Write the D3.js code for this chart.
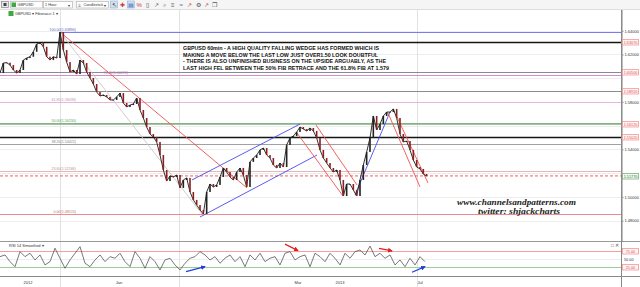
<!DOCTYPE html>
<html>
<head>
<meta charset="utf-8">
<title>GBPUSD 60min</title>
<script src="https://cdn.jsdelivr.net/npm/d3@7"></script>
<style>
body { margin:0; background:#fff; overflow:hidden; }
svg { display:block; font-family:"Liberation Sans", Arial, sans-serif; }
</style>
</head>
<body>
<svg id="chart" width="640" height="287"></svg>
<script>

// closes, one every bar step
var closes = [
 1.6044,1.6128,1.6131,1.6111,1.6069,1.6044,1.6069,1.6153,1.6170,1.6181,
 1.6223,1.6288,1.6299,1.6265,1.6181,1.6153,1.6181,1.6170,1.6389,1.6238,
 1.6136,1.6052,1.6069,1.6035,1.6153,1.6128,1.6052,1.6002,1.5951,1.5884,
 1.5850,1.5859,1.5842,1.5817,1.5817,1.5842,1.5875,1.5791,1.5758,1.5774,
 1.5783,1.5833,1.5732,1.5665,1.5589,1.5530,1.5505,1.5463,1.5353,1.5227,
 1.5134,1.5177,1.5168,1.5185,1.5076,1.5143,1.5160,1.5042,1.4975,1.4932,
 1.4890,1.4857,1.5042,1.5109,1.5084,1.5101,1.5168,1.5244,1.5210,1.5168,
 1.5143,1.5210,1.5244,1.5185,1.5084,1.5295,1.5328,1.5353,1.5396,1.5412,
 1.5353,1.5328,1.5269,1.5244,1.5286,1.5252,1.5438,1.5497,1.5513,1.5547,
 1.5589,1.5572,1.5556,1.5581,1.5556,1.5497,1.5396,1.5328,1.5286,1.5244,
 1.5210,1.5227,1.5143,1.5008,1.5109,1.5109,1.5059,1.5008,1.5143,1.5269,
 1.5379,1.5497,1.5682,1.5564,1.5614,1.5682,1.5715,1.5715,1.5741,1.5665,
 1.5530,1.5463,1.5471,1.5396,1.5311,1.5252,1.5236,1.5193,1.5177
];

// RSI 14 smoothed, one value every 1.5 bars
var rsi = [
 57.5,62.7,42.2,26.8,72.9,57.5,67.9,47.4,62.7,32.1,
 42.2,83.3,52.6,21.9,47.4,67.9,88.2,37.3,26.8,47.4,
 62.7,42.2,57.5,52.6,67.9,42.2,26.8,72.9,52.6,21.9,
 57.5,42.2,16.7,47.4,52.6,32.1,16.7,37.3,52.6,57.5,
 72.9,62.7,47.4,57.5,37.3,52.6,62.7,42.2,57.5,26.8,
 62.7,47.4,67.9,42.2,52.6,57.5,32.1,67.9,72.9,47.4,
 57.5,62.7,26.8,67.9,57.5,42.2,67.9,52.6,32.1,67.9,
 52.6,72.9,78.1,62.7,90.0,57.5,67.9,52.6,62.7,32.1,
 47.4,26.8,52.6,32.1,57.5,42.2
];
var rsiStep = 1.5;

var priceTicks = [1.48, 1.50, 1.52, 1.54, 1.56, 1.58, 1.60, 1.62, 1.64];
var rsiLevels = [25, 50, 75];

var fibHigh = 1.6389, fibLow = 1.4857;
var fibRatios = [0, 23.6, 38.2, 50, 61.8, 76.4, 100];
var fibColors = ["#f08a8a", "#e2b8b8", "#a0a0a0", "#7fb87f", "#eab4dc", "#d68ad6", "#7b7bee"];

var userLines = [1.6307, 1.6050, 1.5892, 1.5612, 1.5502];
var userStyles = ["black", "gray", "gray", "green", "black"];
var lastPrice = 1.5177;

// [bar, price] pairs
var trendLines = [
 {c:"#f05050", p:[[18, 1.6389], [74.1, 1.5076]]},
 {c:"#c8c8c8", p:[[18, 1.6389], [60.6, 1.4857]]},
 {c:"#4a4af0", p:[[60, 1.4831], [95.1, 1.5353]]},
 {c:"#4a4af0", p:[[57.6, 1.5143], [90, 1.5614]]},
 {c:"#4a4af0", p:[[106.5, 1.5017], [117, 1.5715]]},
 {c:"#f05050", p:[[89.1, 1.5539], [102.9, 1.5008]]},
 {c:"#f05050", p:[[94.8, 1.5606], [107.1, 1.5101]]},
 {c:"#f05050", p:[[119.1, 1.5673], [128.4, 1.5118]]},
 {c:"#f05050", p:[[116.4, 1.5707], [126, 1.5084]]}
];

// [bar, rsi] pairs
var rsiArrows = [
 {c:"#e02020", p:[[85.5, 96], [89.4, 76]]},
 {c:"#1f3fe0", p:[[55.8, 11.5], [61.5, 26.8]]},
 {c:"#e02020", p:[[113.7, 83], [117.6, 75]]},
 {c:"#1f3fe0", p:[[123.6, 9.7], [127.5, 26.8]]}
];

var dateBreaks = [18, 53.7, 125.1];
var dateLabels = [[8.4, "2012"], [35.7, "Jan"], [89.4, "Mar"], [102, "2013"], [126, "Jul"]];

var noteLines = [
 "GBPUSD 60min - A HIGH QUALITY FALLING WEDGE HAS FORMED WHICH IS",
 "MAKING A MOVE BELOW THE LAST LOW JUST OVER1.50 LOOK DOUBTFUL",
 "- THERE IS ALSO UNFINISHED BUSINESS ON THE UPSIDE ARGUABLY, AS THE",
 "LAST HIGH FEL BETWEEN THE 50% FIB RETRACE AND THE 61.8% FIB AT 1.579"
];

var svg = d3.select("#chart");
var W = 640, axisX = 621;
var plotTop = 9, mainBottom = 241, rsiTop = 241, rsiBottom = 276;

var x = d3.scaleLinear().domain([0, 186.3]).range([0, axisX]);
var y = d3.scaleLinear().domain([1.4629, 1.6583]).range([mainBottom, plotTop]);
var yr = d3.scaleLinear().domain([0, 100]).range([275.4, 242.8]);

svg.append("defs").selectAll("marker").data(["#e02020", "#1f3fe0"]).enter()
  .append("marker").attr("id", function(d, i) { return "ah" + i; })
  .attr("viewBox", "0 0 6 6").attr("refX", 5).attr("refY", 3)
  .attr("markerWidth", 4).attr("markerHeight", 4).attr("orient", "auto")
  .append("path").attr("d", "M0,0L6,3L0,6Z").attr("fill", function(d) { return d; });

// grid
var g = svg.append("g");
g.selectAll(".hg").data(priceTicks).enter().append("line")
  .attr("x1", 0).attr("x2", axisX).attr("y1", function(d) { return Math.round(y(d)) + 0.5; }).attr("y2", function(d) { return Math.round(y(d)) + 0.5; })
  .attr("stroke", "#ededed");
g.selectAll(".vg").data(dateBreaks).enter().append("line")
  .attr("x1", function(d) { return Math.round(x(d)) + 0.5; }).attr("x2", function(d) { return Math.round(x(d)) + 0.5; })
  .attr("y1", plotTop).attr("y2", 287).attr("stroke", "#e2e2e2");

// fib retracement
fibRatios.forEach(function(r, i) {
  var lv = fibLow + (fibHigh - fibLow) * r / 100;
  var yy = Math.round(y(lv)) + 0.5;
  g.append("line").attr("x1", r == 100 ? x(18) : 0).attr("x2", axisX).attr("y1", yy).attr("y2", yy)
    .attr("stroke", fibColors[i]).attr("stroke-width", 1);
  g.append("text").attr("x", r == 76.4 ? 128 : 76).attr("y", yy - 1.2).attr("text-anchor", "end")
    .attr("font-size", 3.6).attr("fill", d3.color(fibColors[i]).darker(0.6))
    .text(r.toFixed(2) + "(" + lv.toFixed(5) + ")");
});

// horizontal user lines
userLines.forEach(function(p, i) {
  var yy = Math.round(y(p)) + 0.5;
  var st = userStyles[i];
  g.append("line").attr("x1", 0).attr("x2", axisX).attr("y1", yy).attr("y2", yy)
    .attr("stroke", st == "black" ? "#151515" : st == "green" ? "#a7bfa7" : "#8c8c8c")
    .attr("stroke-width", st == "black" ? 1.4 : 1.1);
});

// current price
g.append("line").attr("x1", 0).attr("x2", axisX).attr("y1", y(lastPrice)).attr("y2", y(lastPrice))
  .attr("stroke", "#f06060").attr("stroke-dasharray", "3,2");

// trend lines
g.selectAll(".tl").data(trendLines).enter().append("line")
  .attr("x1", function(d) { return x(d.p[0][0]); }).attr("y1", function(d) { return y(d.p[0][1]); })
  .attr("x2", function(d) { return x(d.p[1][0]); }).attr("y2", function(d) { return y(d.p[1][1]); })
  .attr("stroke", function(d) { return d.c; }).attr("stroke-width", 0.9);

// price
g.append("path").datum(closes)
  .attr("d", d3.line().x(function(d, i) { return x(i); }).y(function(d) { return y(d); }))
  .attr("fill", "none").attr("stroke", "#1a1a1a").attr("stroke-width", 0.9);
g.selectAll(".cd").data(closes.slice(1)).enter().append("rect")
  .attr("x", function(d, i) { return x(i + 1) - 0.8; })
  .attr("y", function(d, i) { return y(Math.max(d, closes[i])); })
  .attr("width", 1.6)
  .attr("height", function(d, i) { return Math.max(0.6, Math.abs(y(d) - y(closes[i]))); })
  .attr("fill", function(d, i) { return d < closes[i] ? "#8e1f1f" : "#222"; });

// note
noteLines.forEach(function(t, i) {
  g.append("text").attr("x", 183).attr("y", 50 + i * 6.6)
    .attr("font-size", 6).attr("font-weight", "bold").attr("fill", "#111")
    .attr("textLength", [196, 195, 203, 206][i]).attr("lengthAdjust", "spacingAndGlyphs").text(t);
});

g.append("text").attr("x", 457).attr("y", 205).attr("font-family", "'Liberation Serif', serif")
  .attr("font-style", "italic").attr("font-weight", "bold").attr("font-size", 8).attr("fill", "#222")
  .attr("textLength", 119).attr("lengthAdjust", "spacingAndGlyphs").text("www.channelsandpatterns.com");
g.append("text").attr("x", 478).attr("y", 214).attr("font-family", "'Liberation Serif', serif")
  .attr("font-style", "italic").attr("font-weight", "bold").attr("font-size", 8).attr("fill", "#222")
  .attr("textLength", 82).attr("lengthAdjust", "spacingAndGlyphs").text("twitter: shjackcharts");

// RSI panel
svg.append("line").attr("x1", 0).attr("x2", W).attr("y1", rsiTop + 0.5).attr("y2", rsiTop + 0.5).attr("stroke", "#999");
var rg = svg.append("g");
rsiLevels.forEach(function(v) {
  rg.append("line").attr("x1", 0).attr("x2", axisX).attr("y1", Math.round(yr(v)) + 0.5).attr("y2", Math.round(yr(v)) + 0.5)
    .attr("stroke", v == 75 ? "#f4a0a0" : v == 25 ? "#9ccc9c" : "#eeeeee");
});
rg.append("path").datum(rsi)
  .attr("d", d3.line().x(function(d, i) { return x(i * rsiStep); }).y(function(d) { return yr(d); }))
  .attr("fill", "none").attr("stroke", "#555").attr("stroke-width", 0.8);
rg.selectAll(".ar").data(rsiArrows).enter().append("line")
  .attr("x1", function(d) { return x(d.p[0][0]); }).attr("y1", function(d) { return yr(d.p[0][1]); })
  .attr("x2", function(d) { return x(d.p[1][0]); }).attr("y2", function(d) { return yr(d.p[1][1]); })
  .attr("stroke", function(d) { return d.c; }).attr("stroke-width", 1.2)
  .attr("marker-end", function(d) { return d.c == "#e02020" ? "url(#ah0)" : "url(#ah1)"; });
rg.append("text").attr("x", 9).attr("y", 246.5).attr("font-size", 4).attr("fill", "#333").text("RSI 14 Smoothed  \u25BE");
rg.append("text").attr("x", 611).attr("y", 246.5).attr("font-size", 4.5).attr("fill", "#555").text("\u25A1 \u2715");

// time axis
svg.append("line").attr("x1", 0).attr("x2", W).attr("y1", rsiBottom + 0.5).attr("y2", rsiBottom + 0.5).attr("stroke", "#888");
svg.selectAll(".dl").data(dateLabels).enter().append("text")
  .attr("x", function(d) { return x(d[0]); }).attr("y", 284).attr("text-anchor", "middle")
  .attr("font-size", 4).attr("fill", "#333").text(function(d) { return d[1]; });

// right axis (tick labels under a price box are hidden, as on the platform)
var boxed = userLines.concat([lastPrice]);
var shownTicks = priceTicks.filter(function(t) {
  return boxed.every(function(p) { return Math.abs(y(p) - y(t)) > 6; });
});
var ax = svg.append("g").attr("transform", "translate(" + (axisX + 0.5) + ",0)")
  .call(d3.axisRight(y).tickValues(shownTicks).tickFormat(d3.format(".5f")).tickSize(2).tickPadding(1));
ax.select(".domain").attr("stroke", "#888");
ax.selectAll("text").attr("font-size", 4).attr("fill", "#333").attr("font-family", "'Liberation Sans', Arial");
ax.selectAll("line").attr("stroke", "#888");
svg.append("line").attr("x1", axisX + 0.5).attr("x2", axisX + 0.5).attr("y1", 0).attr("y2", 287).attr("stroke", "#888");
svg.append("g").attr("transform", "translate(" + (axisX + 0.5) + ",0)")
  .call(d3.axisRight(y).ticks(48).tickFormat("").tickSize(1))
  .call(function(s) { s.select(".domain").remove(); s.selectAll("line").attr("stroke", "#aaa"); });

function box(yy, txt, stroke, fill, col) {
  svg.append("rect").attr("x", 622.5).attr("y", Math.round(yy) - 2.5).attr("width", 16).attr("height", 5.5)
    .attr("fill", fill).attr("stroke", stroke).attr("stroke-width", 0.8);
  svg.append("text").attr("x", 630.5).attr("y", Math.round(yy) + 1.6).attr("text-anchor", "middle")
    .attr("font-size", 3.8).attr("fill", col).text(txt);
}
userLines.forEach(function(p) { box(y(p), p.toFixed(5), "#f29a9a", "#fff4f4", "#e05555"); });
box(y(lastPrice), lastPrice.toFixed(5), "#7fae7f", "#f2fff2", "#2c6a2c");
box(yr(75), "75.00", "#f29a9a", "#fff4f4", "#e05555");
box(yr(25), "25.00", "#f29a9a", "#fff4f4", "#e05555");
svg.append("text").attr("x", 624).attr("y", yr(50) + 1.5).attr("font-size", 3.8).attr("fill", "#333").text("50.00");

// toolbar
var tb = svg.append("g");
tb.append("rect").attr("x", 0).attr("y", 0).attr("width", W).attr("height", 9).attr("fill", "#f5f5f5");
tb.append("line").attr("x1", 0).attr("x2", W).attr("y1", 9.5).attr("y2", 9.5).attr("stroke", "#ddd");
tb.append("rect").attr("x", 1.5).attr("y", 1.5).attr("width", 7).attr("height", 6).attr("fill", "#e8e8e8").attr("stroke", "#777").attr("stroke-width", 0.6);
tb.append("rect").attr("x", 3.5).attr("y", 3).attr("width", 3).attr("height", 3).attr("fill", "#444");
[[10.5, 32, "GBPUSD"], [43.5, 29, "1 Hour"], [76.5, 32, "Candlestick"]].forEach(function(b, i) {
  tb.append("rect").attr("x", b[0]).attr("y", 1.5).attr("width", b[1]).attr("height", 6.5).attr("fill", "#fff").attr("stroke", "#aaa").attr("stroke-width", 0.6);
  if (i == 0) tb.append("rect").attr("x", b[0] + 1).attr("y", 2.5).attr("width", 4.5).attr("height", 4.5).attr("fill", "#3fa83f");
  if (i == 2) tb.append("text").attr("x", b[0] + 1.5).attr("y", 6.5).attr("font-size", 5).attr("fill", "#444").text("\u2AEB");
  tb.append("text").attr("x", b[0] + (i == 1 ? 1.5 : 7)).attr("y", 6.3).attr("font-size", 3.8).attr("fill", "#333").text(b[2]);
  if (i > 0) tb.append("text").attr("x", b[0] + b[1] - 5).attr("y", 6.5).attr("font-size", 4).attr("fill", "#333").text("\u25BE");
});
var icons = [["\u2196", "#222", "#cfe0f4"], ["\u271A", "#c33", null], ["\u25A4", "#36c", "#cfe0f4"], ["%", "#c33", null],
  ["\u25AF", "#333", null], ["\u2197", "#555", null], ["\u2315", "#555", null], ["\u2261", "#555", null],
  ["\u2248", "#36c", null], ["\u2197", "#c33", null], ["\u2699", "#555", null], ["\u2197", "#c33", null], ["\u2750", "#555", null]];
icons.forEach(function(c, i) {
  var ix = 111 + i * 8.4;
  if (c[2]) tb.append("rect").attr("x", ix - 0.5).attr("y", 1).attr("width", 7).attr("height", 7).attr("fill", c[2]).attr("stroke", "#8ab").attr("stroke-width", 0.5);
  tb.append("text").attr("x", ix + 3).attr("y", 7).attr("text-anchor", "middle").attr("font-size", 6).attr("fill", c[1]).text(c[0]);
});
tb.append("rect").attr("x", 8.5).attr("y", 11).attr("width", 5).attr("height", 5).attr("fill", "#3fa83f");
tb.append("text").attr("x", 15).attr("y", 15.3).attr("font-size", 3.8).attr("fill", "#333").text("GBPUSD  \u25BE   Fibonacci 1  \u25BE");

</script>
</body>
</html>
